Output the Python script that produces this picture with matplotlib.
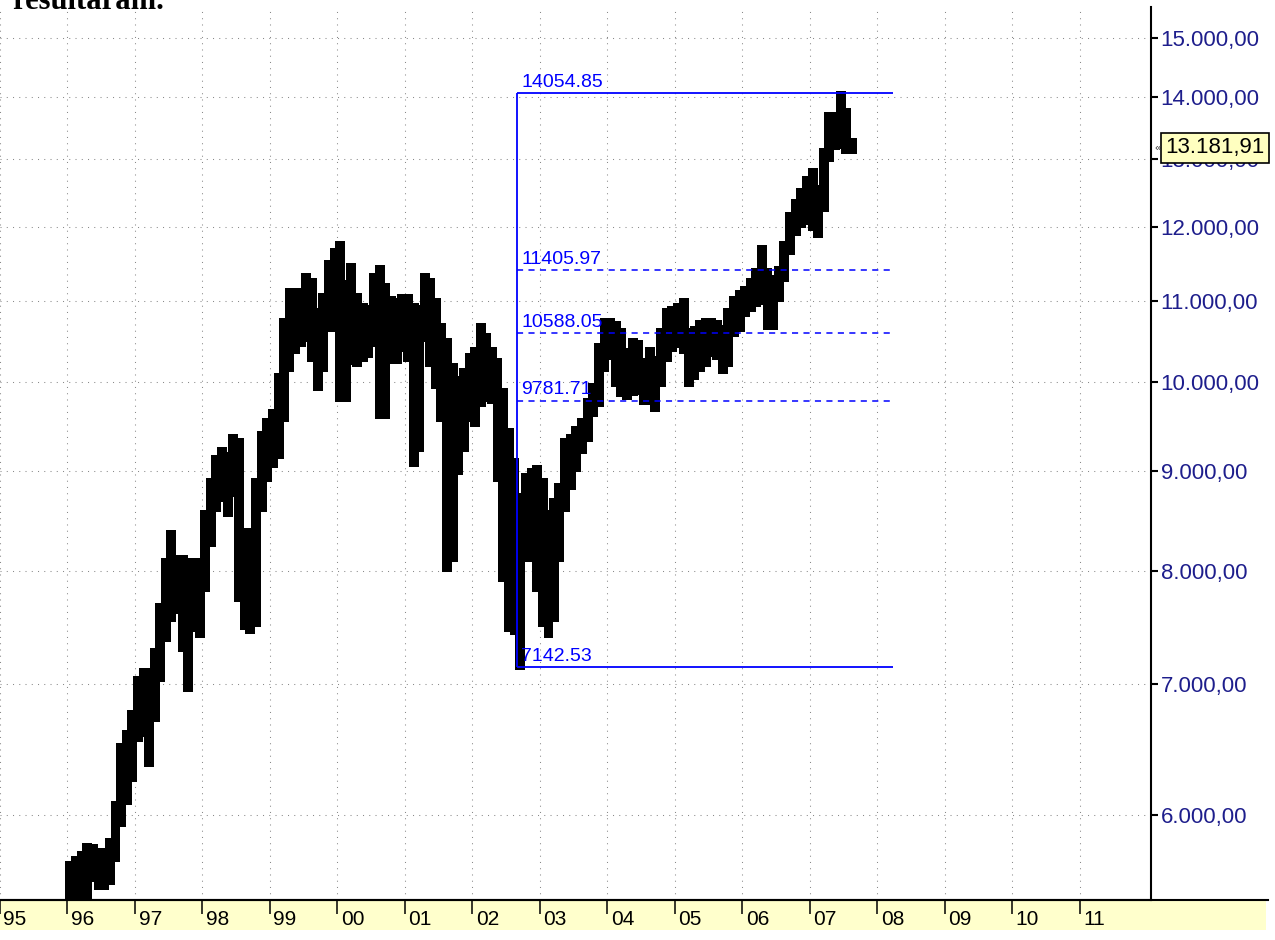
import matplotlib
matplotlib.use("Agg")
import matplotlib.pyplot as plt
import matplotlib.dates as mdates
from matplotlib.patches import Rectangle
from matplotlib.lines import Line2D
import pandas as pd
import datetime as dt

plt.rcParams['font.family'] = ['Liberation Sans', 'DejaVu Sans']

# ---------------- data (monthly high / low) ----------------
months = pd.date_range("1996-01-01", "2007-08-01", freq="MS")

highs = [
    5670, 5703, 5737, 5792, 5785, 5757, 5757, 5826, 6086, 6516, 6614, 6775,          # 1996
    7052, 7119, 7119, 7289, 7686, 8105, 8376, 8134, 8134, 8105, 8105, 8105,          # 1997
    8577, 8907, 9153, 9244, 9186, 9381, 9337, 8397, 8397, 8907, 9415, 9560,          # 1998
    9662, 10080, 10756, 11144, 11144, 11144, 11343, 11276, 10884, 11078, 11518, 11682,  # 1999
    11780, 11250, 11477, 11078, 10948, 10922, 11343, 11450, 11210, 11039, 11013, 11065,  # 2000
    11065, 10948, 10922, 11343, 11276, 11013, 10692, 10506, 10200, 10046, 10140, 10322,  # 2001
    10395, 10692, 10568, 10395, 10261, 9904, 9448, 9119, 8750, 8959, 9012, 9045,      # 2002
    8907, 8577, 8699, 8854, 9337, 9381, 9470, 9560, 9788, 9963, 10444, 10756,         # 2003
    10756, 10717, 10630, 10383, 10506, 10481, 10261, 10395, 10285, 10630, 10884, 10909,  # 2004
    10948, 11013, 10630, 10655, 10730, 10756, 10756, 10730, 10667, 10884, 11039, 11118,  # 2005
    11170, 11276, 11410, 11727, 11410, 11316, 11437, 11780, 12188, 12377, 12539, 12717,  # 2006
    12838, 12583, 13144, 13713, 13713, 14055, 13779, 13300,                           # 2007
]
lows = [
    5300, 5350, 5380, 5400, 5557, 5505, 5505, 5537, 5690, 5930, 6086, 6253,
    6555, 6594, 6364, 6711, 7035, 7375, 7551, 7623, 7289, 6953, 7463, 7410,
    7823, 8250, 8597, 8699, 8547, 8750, 7731, 7480, 7446, 7507, 8597, 8907,
    9055, 9153, 9560, 10140, 10358, 10444, 10506, 10261, 9917, 10140, 10630, 10630,
    9788, 9788, 10224, 10200, 10261, 10310, 10444, 9594, 9594, 10236, 10236, 10383,
    10261, 9065, 9228, 10506, 10200, 9940, 9560, 8010, 8105, 8980, 9228, 9560,
    9504, 9731, 9788, 9765, 8907, 7916, 7463, 7438, 7136, 8105, 8105, 7823,
    7507, 7409, 7551, 8105, 8597, 8823, 9012, 9208, 9337, 9616, 9731, 10140,
    10285, 9963, 9846, 9811, 9858, 9870, 9753, 9753, 9673, 9963, 10261, 10383,
    10432, 10358, 9963, 10046, 10140, 10200, 10322, 10285, 10116, 10200, 10568, 10630,
    10820, 10884, 10948, 10974, 10655, 10655, 11013, 11276, 11643, 11905, 12016, 12060,
    11975, 11877, 12246, 12990, 13173, 13190, 13113, 13113,
]

fib_levels = [14054.85, 11405.97, 10588.05, 9781.71, 7142.53]
fib_labels = ["14054.85", "11405.97", "10588.05", "9781.71", "7142.53"]
fib_solid = [True, False, False, False, True]
fib_start = dt.datetime(2002, 9, 1)
fib_end = dt.datetime(2008, 3, 25)

last_close = 13181.91
y_ticks = [6000, 7000, 8000, 9000, 10000, 11000, 12000, 13000, 14000, 15000]
years = list(range(1995, 2012))
year_labels = ["%02d" % (y % 100) for y in years]


def br_fmt(v):
    s = "{:,.2f}".format(v)
    return s.replace(",", "X").replace(".", ",").replace("X", ".")


# ---------------- figure ----------------
W, H = 1275, 940
fig = plt.figure(figsize=(W / 100, H / 100), dpi=100)
fig.patch.set_facecolor("white")

# yellow date band below the plot
fig.add_artist(Rectangle((0, 10 / H), 1266 / W, 30 / H, transform=fig.transFigure,
                         facecolor="#FFFFCC", edgecolor="none", zorder=-5))

ax = fig.add_axes([0, 40 / H, 1151 / W, 893 / H])
ax.set_facecolor("white")
ax.set_yscale("log")
ax.set_ylim(5428, 15559)
ax.set_xlim(mdates.date2num(dt.datetime(1995, 1, 12)), mdates.date2num(dt.datetime(2012, 1, 22)))

xnum = mdates.date2num(months.to_pydatetime())
heights = [h - l for h, l in zip(highs, lows)]
ax.bar(xnum, heights, bottom=lows, width=32, align="edge", color="black",
       edgecolor="black", linewidth=1.5, antialiased=False, zorder=3)

# grid
year_nums = [mdates.date2num(dt.datetime(y, 1, 1)) for y in years]
ax.set_xticks(year_nums)
ax.set_xticklabels([""] * len(years))
ax.set_yticks(y_ticks)
ax.minorticks_off()
ax.set_yticklabels([br_fmt(v) for v in y_ticks])
ax.grid(True, which="major", color="#8a8a8a", linestyle=(0, (1, 5)), linewidth=0.75, zorder=1)
ax.set_axisbelow(True)

# axes styling
for s in ("top", "left"):
    ax.spines[s].set_visible(False)
ax.spines["right"].set_linewidth(1.5)
ax.spines["bottom"].set_linewidth(1.5)
ax.yaxis.tick_right()
ax.tick_params(axis="y", which="major", length=5, width=1.5, color="black",
               labelsize=16, labelcolor="#1E1E8C", pad=2)
ax.tick_params(axis="x", which="major", length=10, width=1.1, color="black",
               direction="out", pad=0)

# extend bottom line to the right edge
fig.add_artist(Line2D([0, 1268 / W], [40 / H, 40 / H], transform=fig.transFigure,
                      color="black", linewidth=1.5, zorder=5))

# year labels to the right of each tick
for yn, lab in zip(year_nums, year_labels):
    ax.annotate(lab, xy=(yn, 0), xycoords=("data", "axes fraction"),
                xytext=(2.5, -7.5), textcoords="offset points", ha="left", va="top",
                fontsize=15, color="black", annotation_clip=False)

# Fibonacci box
fs = mdates.date2num(fib_start)
fe = mdates.date2num(fib_end)
ax.vlines(fs, fib_levels[-1], fib_levels[0], color="#0000FF", linewidth=1.3, zorder=4)
for lvl, lab, solid in zip(fib_levels, fib_labels, fib_solid):
    ax.hlines(lvl, fs, fe, color="#0000FF", linewidth=1.3 if solid else 1.1,
              linestyles="-" if solid else (0, (4, 3.5)), zorder=4)
    ax.annotate(lab, xy=(fs, lvl), xytext=(3, 1.5), textcoords="offset points",
                ha="left", va="bottom", fontsize=14, color="#0000FF", zorder=6)

# last value box
ax.annotate(br_fmt(last_close), xy=(1, last_close), xycoords=("axes fraction", "data"),
            xytext=(10.5, 0), textcoords="offset points", ha="left", va="center",
            fontsize=16, color="black", zorder=20, annotation_clip=False,
            bbox=dict(boxstyle="square,pad=0.2", facecolor="#FFFFC0", edgecolor="black", linewidth=1.2))
ax.annotate("«", xy=(1, last_close), xycoords=("axes fraction", "data"),
            xytext=(2.5, 0), textcoords="offset points", ha="left", va="center",
            fontsize=8, color="#404040", zorder=20, annotation_clip=False)

# cut-off text at the very top
fig.text(12 / W, 1 - 9 / H, "resultaram.", fontsize=22, fontweight="bold",
         family=["Liberation Serif", "DejaVu Serif"], ha="left", va="baseline")

fig.savefig("out.png", dpi=100)
